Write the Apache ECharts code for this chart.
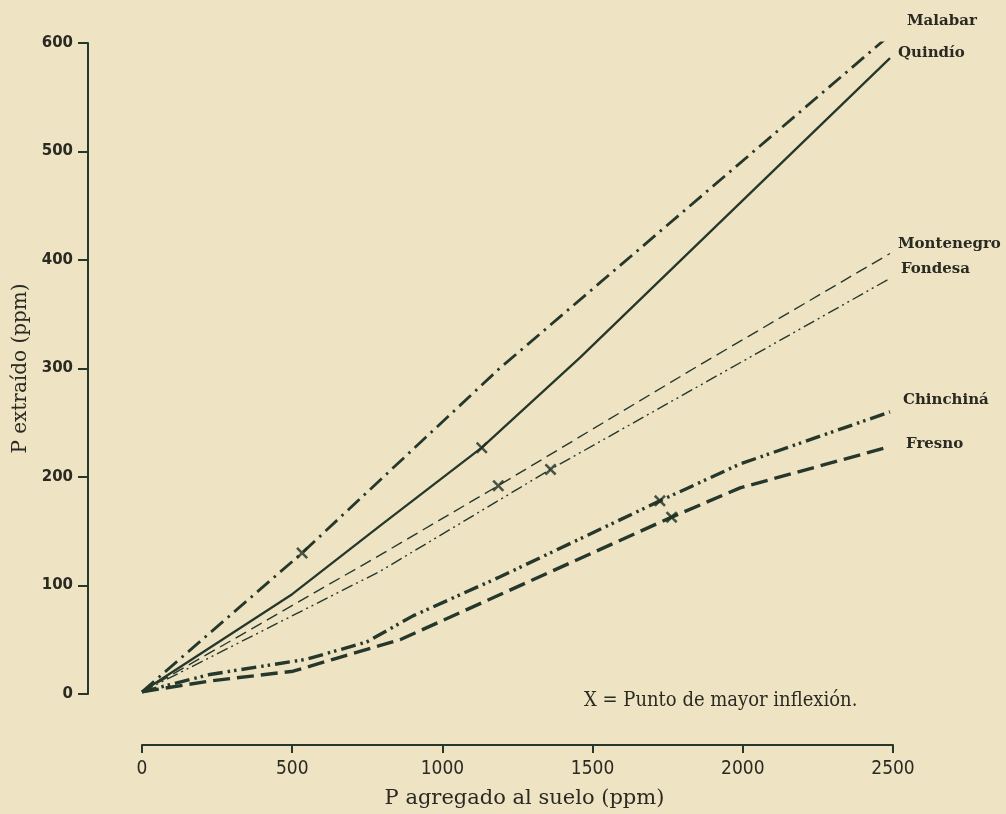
<!DOCTYPE html>
<html><head><meta charset="utf-8">
<script src="https://cdn.jsdelivr.net/npm/echarts@6/dist/echarts.min.js"></script>
<style>html,body{margin:0;padding:0;background:#eee4c4;} #c{width:1006px;height:814px;}</style>
</head><body><div id="c"></div>
<script>
// ---- data ----
const xTicks = [0, 500, 1000, 1500, 2000, 2500];
const yTicks = [0, 100, 200, 300, 400, 500, 600];
const seriesNames = ['Malabar', 'Quindío', 'Montenegro', 'Fondesa', 'Chinchiná', 'Fresno'];
const malabar    = [[0, 2], [533, 130], [1190, 300], [2480, 605]];
const quindio    = [[0, 2], [500, 92], [792, 155], [1131, 227], [1458, 310], [2490, 586]];
const montenegro = [[0, 2], [792, 128], [1186, 192], [1867, 305], [2490, 406]];
const fondesa    = [[0, 2], [792, 113], [1360, 207], [2490, 383]];
const chinchina  = [[0, 2], [226, 18], [548, 32], [748, 48], [902, 72], [1192, 108], [1724, 178], [1991, 212], [2490, 260]];
const fresno     = [[0, 2], [226, 12], [503, 21], [636, 32], [859, 50], [1059, 75], [1763, 163], [1991, 190], [2490, 228]];
const inflexionIdx = [1, 3, 2, 2, 6, 6];
const noteText = 'X = Punto de mayor inflexión.';
const xTitle = 'P agregado al suelo (ppm)';
const yTitle = 'P extraído (ppm)';

// ---- styling ----
const ink = '#26382c';
const allData = [malabar, quindio, montenegro, fondesa, chinchina, fresno];
const styles = [
  { width: 2.8, type: [16, 6, 2.5, 6] },
  { width: 2.3, type: 'solid' },
  { width: 1.4, type: [12, 6] },
  { width: 1.4, type: [12, 4, 2, 4, 2, 4] },
  { width: 3.4, type: [15, 5, 2.5, 4, 2.5, 5] },
  { width: 3.4, type: [17, 7] }
];
const labelOffsets = [[12, -16], [0, -5], [0, -9], [3, -9], [5, -12], [8, -3]];

const lineSeries = allData.map((d, i) => ({
  name: seriesNames[i],
  type: 'line',
  data: d,
  showSymbol: false,
  symbol: 'none',
  silent: true,
  lineStyle: { color: ink, width: styles[i].width, type: styles[i].type, cap: 'butt' },
  endLabel: {
    show: true,
    formatter: seriesNames[i],
    offset: labelOffsets[i],
    fontFamily: 'DejaVu Serif',
    fontWeight: 'bold',
    fontSize: 15,
    color: '#2a2a22'
  },
  z: 3
}));

const xPath = 'path://M0,1.5L1.5,0L5,3.5L8.5,0L10,1.5L6.5,5L10,8.5L8.5,10L5,6.5L1.5,10L0,8.5L3.5,5Z';
const markSeries = {
  type: 'scatter',
  data: allData.map((d, i) => d[inflexionIdx[i]]),
  symbol: xPath,
  symbolSize: 12,
  itemStyle: { color: '#1f2f25' },
  silent: true,
  z: 4
};

const chart = echarts.init(document.getElementById('c'), null, { renderer: 'canvas' });
chart.setOption({
  backgroundColor: '#eee4c4',
  animation: false,
  grid: { left: 142, right: 113, top: 43, bottom: 109, containLabel: false },
  xAxis: {
    type: 'value',
    min: xTicks[0], max: xTicks[xTicks.length - 1], interval: xTicks[1] - xTicks[0],
    offset: 51,
    name: xTitle,
    nameLocation: 'middle',
    nameGap: 43,
    nameTextStyle: { fontFamily: 'DejaVu Serif', fontSize: 21, color: '#2a2a22', padding: [0, 0, 0, 14] },
    axisLine: { show: true, onZero: false, lineStyle: { color: ink, width: 2 } },
    axisTick: { show: true, inside: false, length: 8, lineStyle: { color: ink, width: 2 } },
    axisLabel: { margin: 15, formatter: v => String(v), fontFamily: 'DejaVu Sans Condensed, DejaVu Sans', fontSize: 19, color: '#2a2a22' },
    splitLine: { show: false }
  },
  yAxis: {
    type: 'value',
    min: yTicks[0], max: yTicks[yTicks.length - 1], interval: yTicks[1] - yTicks[0],
    offset: 54,
    name: yTitle,
    nameLocation: 'middle',
    nameGap: 54,
    nameRotate: 90,
    nameTextStyle: { fontFamily: 'DejaVu Serif', fontSize: 20, color: '#2a2a22' },
    axisLine: { show: true, onZero: false, lineStyle: { color: ink, width: 2 } },
    axisTick: { show: true, inside: false, length: 10, lineStyle: { color: ink, width: 2 } },
    axisLabel: { margin: 15, formatter: v => String(v), fontFamily: 'DejaVu Sans', fontWeight: 'bold', fontSize: 15, color: '#2a2a22' },
    splitLine: { show: false }
  },
  graphic: [{
    type: 'text',
    left: 584, top: 691,
    style: { text: noteText, fontFamily: 'DejaVu Serif Condensed, DejaVu Serif', fontSize: 20, fill: '#2a2a22' }
  }],
  series: lineSeries.concat([markSeries])
});
</script></body></html>
